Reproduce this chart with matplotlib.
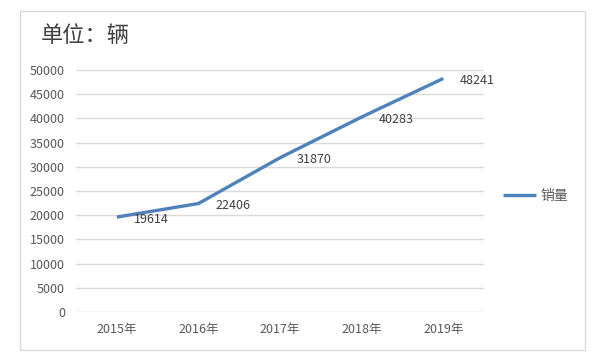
import matplotlib
matplotlib.use("Agg")
import matplotlib.pyplot as plt
from matplotlib.patches import Rectangle

plt.rcParams['font.family'] = ['Noto Sans CJK SC', 'DejaVu Sans']

years = ["2015年", "2016年", "2017年", "2018年", "2019年"]
sales = [19614, 22406, 31870, 40283, 48241]
yticks = [0, 5000, 10000, 15000, 20000, 25000, 30000, 35000, 40000, 45000, 50000]

W, H = 600, 360
fig = plt.figure(figsize=(6, 3.6), dpi=100)
fig.patch.set_facecolor('white')

# outer chart border
fig.patches.append(Rectangle((20 / W, 1 - 350 / H), 565 / W, 339 / H,
                             transform=fig.transFigure, fill=False,
                             edgecolor='#d9d9d9', linewidth=1))

ax = fig.add_axes([76 / W, 1 - 312 / H, 408 / W, 242 / H])
x = list(range(len(years)))
ax.plot(x, sales, color='#4f81bd', linewidth=2.4, solid_capstyle='butt', label='销量')
for xi, v in zip(x, sales):
    ax.annotate(str(v), (xi, v), xytext=(12, -1.5), textcoords='offset points',
                ha='left', va='center', fontsize=9, color='#404040')

ax.set_xlim(-0.5, len(years) - 0.5)
ax.set_ylim(0, 50000)
ax.set_yticks(yticks)
ax.set_yticklabels([str(t) for t in yticks])
ax.set_xticks(x)
ax.set_xticklabels(years)
ax.grid(axis='y', color='#d9d9d9', linewidth=1)
ax.set_axisbelow(True)
for s in ax.spines.values():
    s.set_visible(False)
ax.tick_params(axis='both', length=0, labelsize=9, colors='#595959')
ax.tick_params(axis='y', pad=8)
ax.tick_params(axis='x', pad=8)

fig.text(41 / W, 1 - 36 / H, "单位：辆", fontsize=16, fontweight='medium',
         color='#404040', va='center', ha='left')

leg = fig.legend(loc='center left', bbox_to_anchor=(490 / W, 1 - 196 / H),
                 frameon=False, fontsize=10, handlelength=2.4, handletextpad=0.35,
                 labelcolor='#595959')

fig.savefig('out.png', dpi=100)
